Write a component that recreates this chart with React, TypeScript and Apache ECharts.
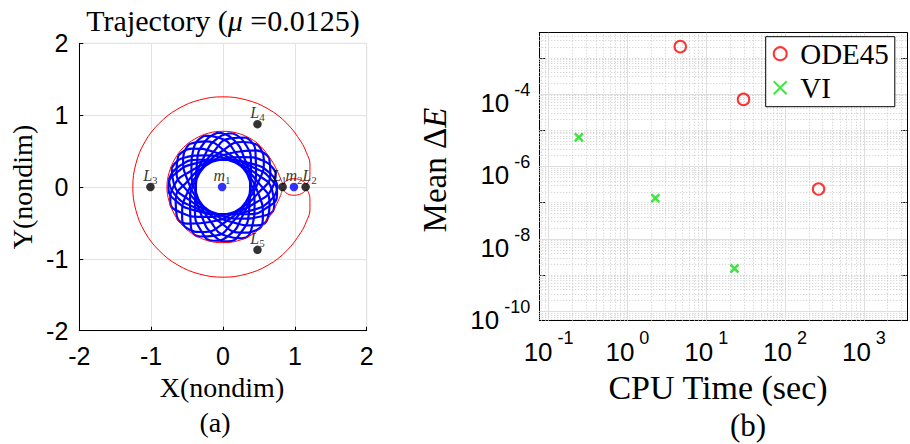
import React, { useEffect, useRef } from 'react';
import * as echarts from 'echarts';

// ---------- Panel (a): trajectory ----------
const lagrangeSubs = ['1', '2', '3', '4', '5'];
const lagrangeX = [0.83, 1.15, -1.01, 0.48, 0.48];
const lagrangeY = [0, 0, 0, 0.875, -0.875];
const primarySubs = ['1', '2'];
const primaryX = [-0.0125, 0.9875];
const primaryY = [0, 0];
const axisTicksA = [-2, -1, 0, 1, 2];

// zero-velocity boundary
const zvcCurve: number[][] = [
  [0.835, 0.035], [0.8, 0.12], [0.76, 0.21], [0.7, 0.33], [0.62, 0.45], [0.52, 0.57],
  [0.39, 0.67], [0.2, 0.75], [0.0, 0.775], [-0.2, 0.75], [-0.39, 0.67], [-0.55, 0.55],
  [-0.67, 0.39], [-0.75, 0.2], [-0.78, 0.0], [-0.75, -0.2], [-0.67, -0.39], [-0.55, -0.55],
  [-0.39, -0.67], [-0.2, -0.75], [0.0, -0.775], [0.2, -0.75], [0.39, -0.67], [0.52, -0.57],
  [0.62, -0.45], [0.7, -0.33], [0.76, -0.21], [0.8, -0.12], [0.835, -0.035],
  [0.87, -0.075], [0.92, -0.105], [0.99, -0.115], [1.06, -0.105], [1.12, -0.075], [1.16, -0.04],
  [1.195, -0.09], [1.21, -0.18], [1.21, -0.32], [1.16, -0.48], [1.087, -0.628], [0.887, -0.887],
  [0.628, -1.087], [0.325, -1.212], [0.0, -1.255], [-0.325, -1.212], [-0.628, -1.087],
  [-0.887, -0.887], [-1.087, -0.628], [-1.212, -0.325], [-1.255, 0.0], [-1.212, 0.325],
  [-1.087, 0.628], [-0.887, 0.887], [-0.628, 1.087], [-0.325, 1.212], [0.0, 1.255],
  [0.325, 1.212], [0.628, 1.087], [0.887, 0.887], [1.087, 0.628], [1.16, 0.48], [1.21, 0.32],
  [1.21, 0.18], [1.195, 0.09], [1.16, 0.04], [1.12, 0.075], [1.06, 0.105], [0.99, 0.115],
  [0.92, 0.105], [0.87, 0.075], [0.835, 0.035],
];

// trajectory loops
const trajectoryLoops: number[][][] = [
  [[0.76, 0], [0.658, 0.19], [0.38, 0.329], [0, 0.38], [-0.38, 0.329], [-0.658, 0.19], [-0.76, 0], [-0.658, -0.19], [-0.38, -0.329], [0, -0.38], [0.38, -0.329], [0.658, -0.19]],
  [[0.734, 0.197], [0.587, 0.354], [0.282, 0.416], [-0.098, 0.367], [-0.452, 0.22], [-0.685, 0.014], [-0.734, -0.197], [-0.587, -0.354], [-0.282, -0.416], [0.098, -0.367], [0.452, -0.22], [0.685, -0.014]],
  [[0.644, 0.403], [0.457, 0.51], [0.148, 0.48], [-0.201, 0.322], [-0.496, 0.078], [-0.659, -0.188], [-0.644, -0.403], [-0.457, -0.51], [-0.148, -0.48], [0.201, -0.322], [0.496, -0.078], [0.659, 0.188]],
  [[0.489, 0.582], [0.277, 0.626], [-0.008, 0.503], [-0.291, 0.244], [-0.496, -0.079], [-0.569, -0.382], [-0.489, -0.582], [-0.277, -0.626], [0.008, -0.503], [0.291, -0.244], [0.496, 0.079], [0.569, 0.382]],
  [[0.321, 0.689], [0.106, 0.676], [-0.137, 0.483], [-0.344, 0.161], [-0.459, -0.205], [-0.45, -0.516], [-0.321, -0.689], [-0.106, -0.676], [0.137, -0.483], [0.344, -0.161], [0.459, 0.205], [0.45, 0.516]],
  [[0.132, 0.748], [-0.073, 0.681], [-0.258, 0.431], [-0.374, 0.066], [-0.39, -0.317], [-0.301, -0.615], [-0.132, -0.748], [0.073, -0.681], [0.258, -0.431], [0.374, -0.066], [0.39, 0.317], [0.301, 0.615]],
  [[-0.066, 0.757], [-0.246, 0.638], [-0.361, 0.349], [-0.378, -0.033], [-0.295, -0.407], [-0.132, -0.672], [0.066, -0.757], [0.246, -0.638], [0.361, -0.349], [0.378, 0.033], [0.295, 0.407], [0.132, 0.672]],
  [[-0.26, 0.714], [-0.404, 0.553], [-0.439, 0.244], [-0.357, -0.13], [-0.179, -0.47], [0.046, -0.683], [0.26, -0.714], [0.404, -0.553], [0.439, -0.244], [0.357, 0.13], [0.179, 0.47], [-0.046, 0.683]],
  [[-0.468, 0.599], [-0.555, 0.402], [-0.493, 0.096], [-0.299, -0.234], [-0.025, -0.502], [0.255, -0.636], [0.468, -0.599], [0.555, -0.402], [0.493, -0.096], [0.299, 0.234], [0.025, 0.502], [-0.255, 0.636]],
  [[-0.622, 0.436], [-0.648, 0.222], [-0.5, -0.051], [-0.218, -0.311], [0.122, -0.487], [0.43, -0.534], [0.622, -0.436], [0.648, -0.222], [0.5, 0.051], [0.218, 0.311], [-0.122, 0.487], [-0.43, 0.534]],
  [[-0.714, 0.26], [-0.684, 0.046], [-0.47, -0.179], [-0.13, -0.357], [0.244, -0.439], [0.554, -0.404], [0.714, -0.26], [0.684, -0.046], [0.47, 0.179], [0.13, 0.357], [-0.244, 0.439], [-0.554, 0.404]],
  [[-0.752, 0.106], [-0.677, -0.097], [-0.422, -0.273], [-0.053, -0.376], [0.33, -0.379], [0.625, -0.279], [0.752, -0.106], [0.677, 0.097], [0.422, 0.273], [0.053, 0.376], [-0.33, 0.379], [-0.625, 0.279]],
];

// ---------- Panel (b): energy error vs CPU time ----------
const ode45Time = [4.68, 29.7, 266];
const ode45Err = [2.03e-3, 7.1e-5, 2.38e-7];
const viTime = [0.242, 2.26, 22.8];
const viErr = [6.37e-6, 1.34e-7, 1.52e-9];
const xLabelDecades = [-1, 0, 1, 2, 3];
const yLabelDecades = [-10, -8, -6, -4];
const xRange = [0.0762, 3524];
const yRange = [5.5e-11, 4.93e-3];

const SERIF = 'Liberation Serif';
const SANS = 'Liberation Sans';

function decadeOf(v: number): number | null {
  const l = Math.log10(v);
  const e = Math.round(l);
  return Math.abs(l - e) < 1e-6 ? e : null;
}

export default function App() {
  const ref = useRef<HTMLDivElement>(null);
  useEffect(() => {
    if (!ref.current) return;
    const chart = echarts.init(ref.current, null, { renderer: 'svg' });

    // grid lines for the log panel (major solid at labelled decades, minor dotted)
    const majorSegs: any[] = [];
    const minorSegs: any[] = [];
    for (let e = -2; e <= 3; e++) {
      for (let k = 1; k <= 9; k++) {
        const v = k * Math.pow(10, e);
        if (v <= xRange[0] || v >= xRange[1]) continue;
        const seg = { coords: [[v, yRange[0]], [v, yRange[1]]] };
        (k === 1 && xLabelDecades.includes(e) ? majorSegs : minorSegs).push(seg);
      }
    }
    for (let e = -11; e <= -3; e++) {
      for (let k = 1; k <= 9; k++) {
        const v = k * Math.pow(10, e);
        if (v <= yRange[0] || v >= yRange[1]) continue;
        const seg = { coords: [[xRange[0], v], [xRange[1], v]] };
        (k === 1 && yLabelDecades.includes(e) ? majorSegs : minorSegs).push(seg);
      }
    }

    const supRich = (padTop: number) => ({
      base: { fontFamily: SANS, fontSize: 26, color: '#000', lineHeight: 26, padding: [padTop, 0, 0, 0], verticalAlign: 'top' },
      sup: { fontFamily: SANS, fontSize: 18, color: '#000', lineHeight: 18, padding: [0, 0, 0, 5], verticalAlign: 'top' },
    });

    const labelFmt = (allowed: number[]) => (v: number) => {
      const e = decadeOf(v);
      if (e === null || !allowed.includes(e)) return '';
      return `{base|10}{sup|${e}}`;
    };

    const labelOffsets: Record<string, number[]> = { L1: [-3, 0], L2: [4, 0], m2: [0, 0] };

    const ptLabel = (letter: string, subs: string[]) => ({
      show: true,
      position: 'top',
      distance: -1,
      formatter: (p: any) => `{l|${letter}}{s|${subs[p.dataIndex]}}`,
      rich: {
        l: { fontFamily: SERIF, fontStyle: 'italic', fontSize: 16, color: '#000', lineHeight: 16, verticalAlign: 'top' },
        s: { fontFamily: SERIF, fontSize: 11, color: '#000', lineHeight: 11, padding: [7, 0, 0, 0], verticalAlign: 'top' },
      },
    });

    const pointData = (letter: string, xs: number[], ys: number[], subs: string[]) =>
      xs.map((x, i) => {
        const off = labelOffsets[letter + subs[i]];
        const item: any = { value: [x, ys[i]] };
        if (off) item.label = { offset: off };
        return item;
      });

    const option: any = {
      animation: false,
      backgroundColor: '#fff',
      grid: [
        { left: 79.3, top: 43.3, width: 287.4, height: 287.4, show: true, borderColor: '#dadada', borderWidth: 1 },
        { left: 539.3, top: 32.7, width: 369, height: 288, show: false },
      ],
      xAxis: [
        {
          gridIndex: 0, type: 'value', min: axisTicksA[0], max: axisTicksA[axisTicksA.length - 1], interval: 1,
          axisLine: { onZero: false, lineStyle: { color: '#000', width: 1 } },
          axisTick: { inside: true, length: 4, lineStyle: { color: '#000' } },
          axisLabel: { fontFamily: SANS, fontSize: 25, color: '#000', margin: 13 },
          splitLine: { show: true, lineStyle: { color: '#e3e3e3', width: 1 } },
        },
        {
          gridIndex: 1, type: 'log', logBase: 10, min: xRange[0], max: xRange[1],
          axisLine: { onZero: false, lineStyle: { color: '#000', width: 1 } },
          axisTick: { inside: true, length: 6, lineStyle: { color: '#000' } },
          axisLabel: { formatter: labelFmt(xLabelDecades), rich: supRich(10), margin: 8 },
          splitLine: { show: false },
        },
        {
          gridIndex: 1, type: 'log', logBase: 10, min: xRange[0], max: xRange[1], position: 'top',
          axisLine: { onZero: false, lineStyle: { color: '#000', width: 1 } },
          axisTick: { inside: true, length: 6, lineStyle: { color: '#000' } },
          axisLabel: { show: false },
          splitLine: { show: false },
        },
      ],
      yAxis: [
        {
          gridIndex: 0, type: 'value', min: axisTicksA[0], max: axisTicksA[axisTicksA.length - 1], interval: 1,
          axisLine: { onZero: false, lineStyle: { color: '#000', width: 1 } },
          axisTick: { inside: true, length: 4, lineStyle: { color: '#000' } },
          axisLabel: { fontFamily: SANS, fontSize: 25, color: '#000', margin: 11 },
          splitLine: { show: true, lineStyle: { color: '#e3e3e3', width: 1 } },
        },
        {
          gridIndex: 1, type: 'log', logBase: 10, min: yRange[0], max: yRange[1],
          axisLine: { onZero: false, lineStyle: { color: '#000', width: 1 } },
          axisTick: { inside: true, length: 6, lineStyle: { color: '#000' } },
          axisLabel: { formatter: labelFmt(yLabelDecades), rich: supRich(9), margin: 9 },
          splitLine: { show: false },
        },
        {
          gridIndex: 1, type: 'log', logBase: 10, min: yRange[0], max: yRange[1], position: 'right',
          axisLine: { onZero: false, lineStyle: { color: '#000', width: 1 } },
          axisTick: { inside: true, length: 6, lineStyle: { color: '#000' } },
          axisLabel: { show: false },
          splitLine: { show: false },
        },
      ],
      legend: {
        data: ['ODE45', 'VI'],
        orient: 'vertical',
        left: 765.7,
        top: 36.7,
        itemWidth: 30,
        itemHeight: 13,
        itemGap: 4,
        padding: [2, 6, 4, 7],
        borderColor: '#000',
        borderWidth: 1,
        backgroundColor: '#fff',
        selectedMode: false,
        textStyle: { fontFamily: SERIF, fontSize: 29, color: '#000', lineHeight: 30 },
      },
      series: [
        ...trajectoryLoops.map((loop, i) => ({
          name: 'trajectory' + i,
          type: 'line',
          xAxisIndex: 0,
          yAxisIndex: 0,
          data: loop.concat([loop[0]]),
          smooth: 0.55,
          showSymbol: false,
          symbol: 'none',
          lineStyle: { color: '#0000ff', width: 2.2 },
          z: 2,
        })),
        {
          name: 'zvc',
          type: 'line',
          xAxisIndex: 0,
          yAxisIndex: 0,
          data: zvcCurve,
          smooth: 0.4,
          showSymbol: false,
          symbol: 'none',
          lineStyle: { color: '#ff0000', width: 1 },
          z: 3,
        },
        {
          name: 'Lagrange points',
          type: 'scatter',
          xAxisIndex: 0,
          yAxisIndex: 0,
          data: pointData('L', lagrangeX, lagrangeY, lagrangeSubs),
          symbol: 'circle',
          symbolSize: 8.5,
          itemStyle: { color: '#000' },
          label: ptLabel('L', lagrangeSubs),
          z: 4,
        },
        {
          name: 'Primaries',
          type: 'scatter',
          xAxisIndex: 0,
          yAxisIndex: 0,
          data: pointData('m', primaryX, primaryY, primarySubs),
          symbol: 'circle',
          symbolSize: 8.5,
          itemStyle: { color: '#0000ff' },
          label: ptLabel('m', primarySubs),
          z: 4,
        },
        {
          name: 'minor-grid-b',
          type: 'lines',
          coordinateSystem: 'cartesian2d',
          xAxisIndex: 1,
          yAxisIndex: 1,
          silent: true,
          data: minorSegs,
          lineStyle: { color: '#cbcbcb', type: [1, 2], width: 1, opacity: 1 },
          z: 1,
        },
        {
          name: 'major-grid-b',
          type: 'lines',
          coordinateSystem: 'cartesian2d',
          xAxisIndex: 1,
          yAxisIndex: 1,
          silent: true,
          data: majorSegs,
          lineStyle: { color: '#dedede', type: 'solid', width: 1, opacity: 1 },
          z: 1,
        },
        {
          name: 'ODE45',
          type: 'scatter',
          xAxisIndex: 1,
          yAxisIndex: 1,
          data: ode45Time.map((t, i) => [t, ode45Err[i]]),
          symbol: 'circle',
          symbolSize: 11.5,
          itemStyle: { color: 'rgba(0,0,0,0)', borderColor: '#ff0000', borderWidth: 2 },
          z: 4,
        },
        {
          name: 'VI',
          type: 'scatter',
          xAxisIndex: 1,
          yAxisIndex: 1,
          data: viTime.map((t, i) => [t, viErr[i]]),
          symbol: 'path://M0,0L10,10M10,0L0,10',
          symbolSize: 8,
          itemStyle: { color: 'rgba(0,0,0,0)', borderColor: '#10e010', borderWidth: 2.5 },
          z: 4,
        },
      ],
      graphic: [
        {
          type: 'text', x: 223, y: 20,
          style: {
            text: '{n|Trajectory (}{i|μ}{n| =0.0125)}',
            rich: { n: { fontFamily: SERIF, fontSize: 30 }, i: { fontFamily: SERIF, fontSize: 30, fontStyle: 'italic' } },
            align: 'center', verticalAlign: 'middle', fill: '#000',
          },
        },
        {
          type: 'text', x: 222, y: 387,
          style: { text: 'X(nondim)', fontFamily: SERIF, fontSize: 28, align: 'center', verticalAlign: 'middle', fill: '#000' },
        },
        {
          type: 'text', x: 22, y: 187, rotation: Math.PI / 2,
          style: { text: 'Y(nondim)', fontFamily: SERIF, fontSize: 28, align: 'center', verticalAlign: 'middle', fill: '#000' },
        },
        {
          type: 'text', x: 215, y: 422,
          style: { text: '(a)', fontFamily: SERIF, fontSize: 28, align: 'center', verticalAlign: 'middle', fill: '#000' },
        },
        {
          type: 'text', x: 718, y: 387,
          style: { text: 'CPU Time (sec)', fontFamily: SERIF, fontSize: 34, align: 'center', verticalAlign: 'middle', fill: '#000' },
        },
        {
          type: 'text', x: 435, y: 170, rotation: Math.PI / 2,
          style: {
            text: '{n|Mean }{n|Δ}{i|E}',
            rich: { n: { fontFamily: SERIF, fontSize: 33 }, i: { fontFamily: SERIF, fontSize: 33, fontStyle: 'italic' } },
            align: 'center', verticalAlign: 'middle', fill: '#000',
          },
        },
        {
          type: 'text', x: 748, y: 425,
          style: { text: '(b)', fontFamily: SERIF, fontSize: 31, align: 'center', verticalAlign: 'middle', fill: '#000' },
        },
      ],
    };

    chart.setOption(option);
    return () => chart.dispose();
  }, []);

  return (
    <div
      ref={ref}
      style={{ position: 'fixed', left: 0, top: 0, width: 910, height: 444, background: '#fff' }}
    />
  );
}
